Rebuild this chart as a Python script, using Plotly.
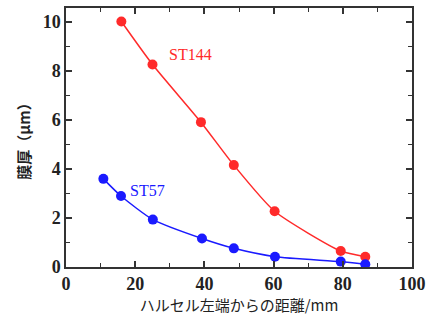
import plotly.graph_objects as go

# Data
x_st144 = [16, 25, 39, 48.5, 60.3, 79.4, 86.5]
y_st144 = [10.0, 8.25, 5.9, 4.15, 2.27, 0.65, 0.42]

x_st57 = [10.8, 15.9, 25.1, 39.3, 48.5, 60.4, 79.4, 86.5]
y_st57 = [3.59, 2.89, 1.93, 1.16, 0.76, 0.42, 0.22, 0.11]

x_title = "ハルセル左端からの距離/mm"
y_title = "膜厚（μm）"

red = "#ff2a2a"
blue = "#1a1aff"

fig = go.Figure()
fig.add_trace(go.Scatter(x=x_st144, y=y_st144, mode="lines+markers",
                         line=dict(color=red, width=1.5, shape="spline", smoothing=0.6),
                         marker=dict(color=red, size=10), name="ST144"))
fig.add_trace(go.Scatter(x=x_st57, y=y_st57, mode="lines+markers",
                         line=dict(color=blue, width=1.5, shape="spline", smoothing=0.6),
                         marker=dict(color=blue, size=10), name="ST57"))

fig.add_annotation(x=29.3, y=8.65, text="ST144", showarrow=False, xanchor="left",
                   font=dict(family="Liberation Serif, serif", size=16, color=red))
fig.add_annotation(x=18, y=3.1, text="ST57", showarrow=False, xanchor="left",
                   font=dict(family="Liberation Serif, serif", size=16, color=blue))

axis_common = dict(showline=True, linecolor="#333333", linewidth=1.5, mirror="ticks",
                   ticks="inside", ticklen=6, tickwidth=1.5, tickcolor="#333333",
                   showgrid=False, zeroline=False,
                   tickfont=dict(family="Liberation Serif, serif", size=18, color="#222222",
                                 weight="bold"))

fig.update_xaxes(range=[0, 100], dtick=20, **axis_common,
                 minor=dict(ticks="inside", ticklen=4, dtick=10, tickcolor="#333333", tickwidth=1.2),
                 title=dict(text=x_title, standoff=4,
                            font=dict(family="Noto Sans CJK JP", size=15, color="#222222")))
fig.update_yaxes(range=[0, 10.55], dtick=2, **axis_common,
                 minor=dict(ticks="inside", ticklen=4, dtick=1, tickcolor="#333333", tickwidth=1.2),
                 title=dict(text=y_title, standoff=8,
                            font=dict(family="Noto Sans CJK JP", size=15, color="#222222",
                                      weight="bold")))

fig.update_layout(width=434, height=320, margin=dict(l=66, r=22, t=6, b=53),
                  plot_bgcolor="white", paper_bgcolor="white", showlegend=False)

fig.write_html("out.html")
